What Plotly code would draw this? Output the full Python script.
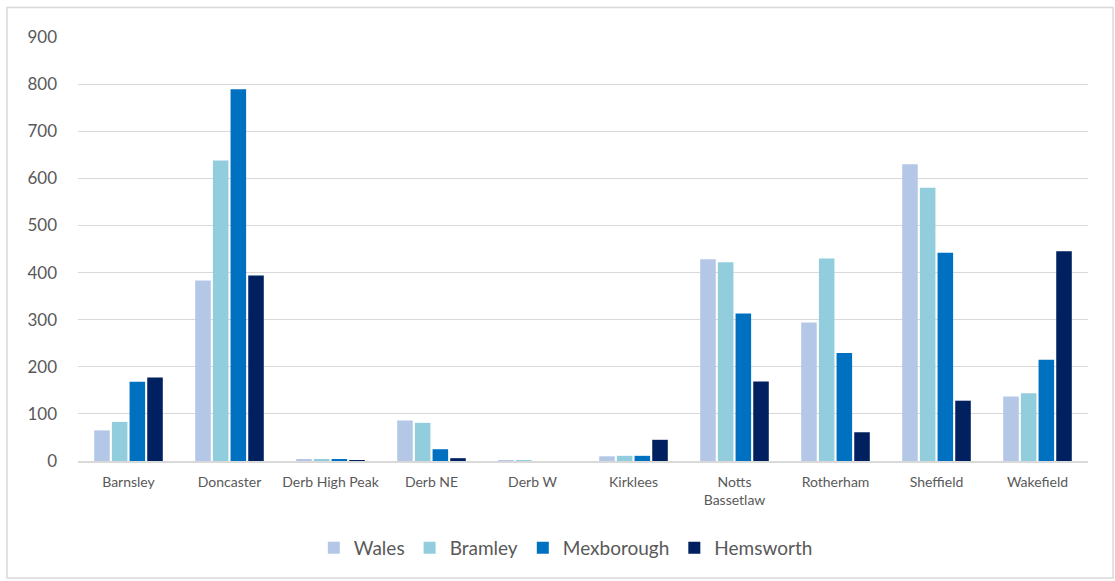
import plotly.graph_objects as go

categories = ["Barnsley", "Doncaster", "Derb High Peak", "Derb NE", "Derb W",
              "Kirklees", "Notts<br>Bassetlaw", "Rotherham", "Sheffield", "Wakefield"]
wales = [65, 383, 3, 86, 2, 10, 428, 294, 630, 137]
bramley = [83, 638, 3, 81, 2, 11, 422, 430, 580, 144]
mexborough = [168, 789, 3, 25, 0, 11, 313, 229, 442, 215]
hemsworth = [177, 394, 1, 6, 0, 45, 169, 61, 128, 445]

series = [("Wales", wales, "#B4C7E7"), ("Bramley", bramley, "#92CDDD"),
          ("Mexborough", mexborough, "#0070C0"), ("Hemsworth", hemsworth, "#002060")]

W, H = 1115, 581
fig = go.Figure()
for name, vals, col in series:
    fig.add_trace(go.Bar(x=categories, y=vals, name=name, marker_color=col,
                         marker_line_width=0))

font_fam = "Lato, Open Sans, sans-serif"
fig.update_layout(
    width=W, height=H,
    margin=dict(l=78, r=27, t=37, b=120),
    paper_bgcolor="white", plot_bgcolor="white",
    barmode="group", bargap=0.3, bargroupgap=0.12,
    font=dict(family=font_fam, color="#595959"),
    legend=dict(orientation="h", x=0.483, xanchor="center", y=-0.205, yanchor="middle",
                font=dict(size=19, color="#595959"), itemwidth=30,
                traceorder="normal"),
    xaxis=dict(showgrid=False, showline=True, linecolor="#D9D9D9", linewidth=1.5,
               ticks="", tickfont=dict(size=14, color="#595959"),
               ticklabelstandoff=7),
    yaxis=dict(range=[0, 900], dtick=100, showgrid=True, gridcolor="#D9D9D9",
               gridwidth=1, zeroline=False, showline=False, ticks="",
               ticklen=0, tickfont=dict(size=17, color="#595959"),
               ticklabelstandoff=20),
    shapes=[dict(type="rect", xref="paper", yref="paper",
                 x0=-0.0703, x1=1.0248, y0=-0.276, y1=1.0696,
                 line=dict(color="#D9D9D9", width=1.5))],
)
fig.write_html("out.html")
